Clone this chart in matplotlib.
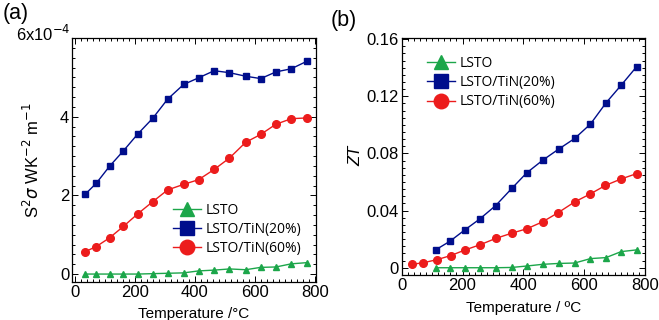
import matplotlib
matplotlib.use("Agg")
import matplotlib.pyplot as plt
from matplotlib.ticker import MultipleLocator, FixedLocator, FixedFormatter

plt.rcParams['font.family'] = ['Liberation Sans', 'DejaVu Sans']

# ---- temperatures (°C) ----
temp16 = [34, 71, 115, 161, 209, 259, 309, 362, 412, 464, 515, 569, 619, 670, 721, 773]
temp14 = [113, 159, 207, 256, 309, 362, 411, 464, 516, 569, 621, 672, 722, 773]

# ---- (a): power factor, units of 1e-4 W K^-2 m^-1 ----
pf_lsto = [0.0, 0.0, 0.0, 0.0, 0.0, 0.01, 0.02, 0.03, 0.08, 0.10, 0.13, 0.11, 0.17, 0.18, 0.26, 0.29]
pf_tin20 = [2.03, 2.31, 2.74, 3.13, 3.56, 3.96, 4.45, 4.82, 4.99, 5.17, 5.12, 5.03, 4.97, 5.14, 5.22, 5.41]
pf_tin60 = [0.57, 0.70, 0.92, 1.21, 1.53, 1.84, 2.14, 2.28, 2.40, 2.66, 2.95, 3.35, 3.55, 3.81, 3.95, 3.97]

# ---- (b): ZT ----
zt_lsto = [0.0, 0.0, 0.0, 0.0, 0.0, 0.0002, 0.0012, 0.0024, 0.0030, 0.0033, 0.0064, 0.0071, 0.0113, 0.0125]
zt_tin20 = [0.0127, 0.0186, 0.0264, 0.0340, 0.0435, 0.0555, 0.0664, 0.0753, 0.0830, 0.0905, 0.1006, 0.1154, 0.1278, 0.1408]
zt_tin60 = [0.0024, 0.0035, 0.0056, 0.0085, 0.0125, 0.0162, 0.0205, 0.0242, 0.0273, 0.0322, 0.0386, 0.0461, 0.0515, 0.0576, 0.0621, 0.0659]

labels = ['LSTO', 'LSTO/TiN(20%)', 'LSTO/TiN(60%)']
c_green = '#1ca64a'
c_blue = '#000e8c'
c_red = '#ec1c1c'

fig = plt.figure(figsize=(6.59, 3.2), dpi=100)
ax1 = fig.add_axes([0.1093, 0.119, 0.370, 0.762])
ax2 = fig.add_axes([0.6096, 0.141, 0.369, 0.741])

def style(ax):
    ax.tick_params(which='both', direction='in', top=True, right=True, labelsize=12, width=0.7, pad=2)
    ax.tick_params(which='major', length=4.5)
    ax.tick_params(which='minor', length=2.2)
    for s in ax.spines.values():
        s.set_linewidth(0.9)

legend_kw = dict(frameon=False, markerscale=1.9, handlelength=2.0,
                 handletextpad=0.35, labelspacing=0.3, borderaxespad=0,
                 prop={'family': ['Open Sans', 'DejaVu Sans'], 'size': 10})

# panel (a)
l1, = ax1.plot(temp16, pf_lsto, '-^', color=c_green, ms=5, lw=1)
l2, = ax1.plot(temp16, pf_tin20, '-s', color=c_blue, ms=5, lw=1)
l3, = ax1.plot(temp16, pf_tin60, '-o', color=c_red, ms=5.5, lw=1)
ax1.set_xlim(-10, 803)
ax1.set_ylim(-0.2, 6)
ax1.xaxis.set_major_locator(MultipleLocator(200))
ax1.xaxis.set_minor_locator(MultipleLocator(20))
ax1.yaxis.set_major_locator(FixedLocator([0, 2, 4, 6]))
ax1.yaxis.set_major_formatter(FixedFormatter(['0', '2', '4', '']))
ax1.yaxis.set_minor_locator(MultipleLocator(0.25))
style(ax1)
ax1.text(-15, 5.93, r'6x10$^{-4}$', ha='right', va='baseline', fontsize=12)
ax1.set_xlabel('Temperature /°C', fontsize=11, labelpad=5)
ax1.set_ylabel(r'S$^2\sigma$ WK$^{-2}$ m$^{-1}$', fontsize=12, labelpad=13)
fig.text(0.004, 0.957, '(a)', fontsize=15.5, ha='left', va='center')
ax1.legend([l1, l2, l3], labels, loc='center left', bbox_to_anchor=(0.392, 0.215), **legend_kw)

# panel (b)
m1, = ax2.plot(temp14, zt_lsto, '-^', color=c_green, ms=5, lw=1)
m2, = ax2.plot(temp14, zt_tin20, '-s', color=c_blue, ms=5, lw=1)
m3, = ax2.plot(temp16, zt_tin60, '-o', color=c_red, ms=5.5, lw=1)
ax2.set_xlim(0, 800)
ax2.set_ylim(-0.005, 0.161)
ax2.xaxis.set_major_locator(MultipleLocator(200))
ax2.xaxis.set_minor_locator(MultipleLocator(20))
ax2.yaxis.set_major_locator(FixedLocator([0, 0.04, 0.08, 0.12, 0.16]))
ax2.yaxis.set_major_formatter(FixedFormatter(['0', '0.04', '0.08', '0.12', '0.16']))
ax2.yaxis.set_minor_locator(MultipleLocator(0.005))
style(ax2)
ax2.set_xlabel('Temperature / ºC', fontsize=11, labelpad=6)
ax2.set_ylabel('ZT', fontsize=12, style='italic', labelpad=2)
fig.text(0.502, 0.937, '(b)', fontsize=15.5, ha='left', va='center')
ax2.legend([m1, m2, m3], labels, loc='center left', bbox_to_anchor=(0.082, 0.81), **legend_kw)

fig.savefig('out.png', dpi=100)
